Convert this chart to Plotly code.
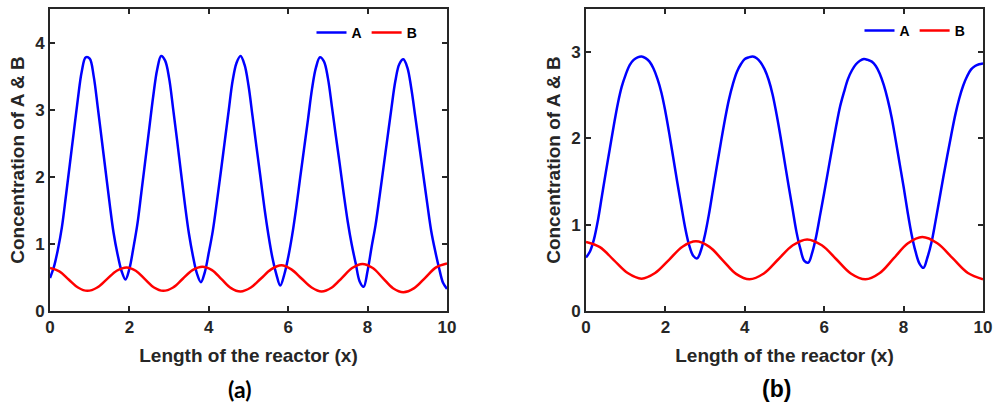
import plotly.graph_objects as go

# ---------------- data ----------------
x_grid = [round(i * 0.1, 1) for i in range(101)]   # sample positions along the reactor

# Panel (a), species A (read every 0.1)
ya_A = [0.49, 0.66, 0.92, 1.25, 1.71, 2.19, 2.67, 3.15, 3.57, 3.78,
        3.76, 3.50, 3.05, 2.57, 2.09, 1.61, 1.17, 0.85, 0.60, 0.47,
        0.63, 0.94, 1.29, 1.76, 2.24, 2.72, 3.20, 3.60, 3.80, 3.73,
        3.47, 3.02, 2.55, 2.06, 1.58, 1.15, 0.82, 0.56, 0.43, 0.58,
        0.87, 1.19, 1.61, 2.06, 2.52, 2.98, 3.43, 3.70, 3.80, 3.67,
        3.36, 2.91, 2.45, 2.00, 1.54, 1.14, 0.80, 0.55, 0.38, 0.54,
        0.80, 1.13, 1.53, 1.98, 2.42, 2.86, 3.31, 3.63, 3.78, 3.72,
        3.47, 3.05, 2.61, 2.18, 1.74, 1.33, 0.99, 0.71, 0.44, 0.36,
        0.60, 0.95, 1.28, 1.70, 2.14, 2.58, 3.02, 3.43, 3.68, 3.75,
        3.63, 3.32, 2.90, 2.47, 2.04, 1.61, 1.20, 0.90, 0.64, 0.42,
        0.33]

# Panel (a), species B (extrema and points between them)
xa_B = [0.00, 0.235, 0.47, 0.705, 0.94, 1.19, 1.435, 1.68, 1.93, 2.16, 2.39, 2.62, 2.85, 3.10, 3.345, 3.59, 3.84,
        4.08, 4.32, 4.56, 4.80, 5.06, 5.315, 5.57, 5.83, 6.08, 6.335, 6.59, 6.84, 7.10, 7.355, 7.61, 7.87,
        8.13, 8.385, 8.64, 8.90, 9.175, 9.45, 9.725, 10.0]
ya_B = [0.64, 0.59, 0.47, 0.35, 0.30, 0.35, 0.475, 0.60, 0.65, 0.60, 0.475, 0.35, 0.30, 0.35, 0.48, 0.61, 0.66,
        0.61, 0.475, 0.34, 0.29, 0.35, 0.485, 0.62, 0.68, 0.62, 0.485, 0.35, 0.29, 0.35, 0.495, 0.64, 0.70,
        0.64, 0.49, 0.34, 0.28, 0.34, 0.495, 0.65, 0.71]

# Panel (b), species A (read every 0.1)
yb_A = [0.62, 0.69, 0.83, 1.05, 1.33, 1.61, 1.88, 2.15, 2.40, 2.60,
        2.74, 2.85, 2.91, 2.94, 2.95, 2.93, 2.89, 2.81, 2.69, 2.53,
        2.31, 2.05, 1.77, 1.49, 1.22, 0.96, 0.76, 0.64, 0.61, 0.71,
        0.89, 1.13, 1.41, 1.69, 1.96, 2.22, 2.45, 2.63, 2.77, 2.86,
        2.92, 2.94, 2.95, 2.93, 2.88, 2.80, 2.68, 2.51, 2.28, 2.02,
        1.74, 1.46, 1.19, 0.92, 0.72, 0.58, 0.56, 0.68, 0.87, 1.12,
        1.37, 1.63, 1.89, 2.14, 2.37, 2.54, 2.69, 2.79, 2.86, 2.90,
        2.92, 2.91, 2.89, 2.84, 2.75, 2.62, 2.45, 2.24, 1.98, 1.71,
        1.44, 1.15, 0.89, 0.69, 0.55, 0.50, 0.62, 0.79, 1.03, 1.29,
        1.55, 1.80, 2.04, 2.27, 2.46, 2.61, 2.72, 2.80, 2.84, 2.86,
        2.87]

# Panel (b), species B
xb_B = [0.00, 0.35, 0.70, 1.05, 1.40, 1.74, 2.085, 2.43, 2.77, 3.11, 3.445, 3.78, 4.12, 4.48, 4.845, 5.21, 5.57,
        5.94, 6.305, 6.67, 7.04, 7.40, 7.755, 8.11, 8.47, 8.85, 9.235, 9.62, 10.0]
yb_B = [0.80, 0.74, 0.59, 0.44, 0.375, 0.44, 0.59, 0.745, 0.807, 0.743, 0.587, 0.43, 0.367, 0.435, 0.60, 0.762, 0.83,
        0.762, 0.60, 0.435, 0.367, 0.44, 0.612, 0.785, 0.857, 0.785, 0.612, 0.44, 0.367]

x_ticks = [0, 2, 4, 6, 8, 10]
ya_ticks = [0, 1, 2, 3, 4]
yb_ticks = [0, 1, 2, 3]

# ---------------- figure ----------------
AX = "#262626"
LW = 2.5
FONT = "Liberation Sans, Arial, sans-serif"

def line(color):
    return dict(color=color, width=LW, shape="spline", smoothing=1.0)

fig = go.Figure()
fig.add_trace(go.Scatter(x=x_grid, y=ya_A, mode="lines", name="A", line=line("#0000FF"),
                         xaxis="x", yaxis="y", legend="legend"))
fig.add_trace(go.Scatter(x=xa_B, y=ya_B, mode="lines", name="B", line=line("#FF0000"),
                         xaxis="x", yaxis="y", legend="legend"))
fig.add_trace(go.Scatter(x=x_grid, y=yb_A, mode="lines", name="A", line=line("#0000FF"),
                         xaxis="x2", yaxis="y2", legend="legend2"))
fig.add_trace(go.Scatter(x=xb_B, y=yb_B, mode="lines", name="B", line=line("#FF0000"),
                         xaxis="x2", yaxis="y2", legend="legend2"))

tickfont = dict(family=FONT, size=17, color=AX)
titlefont = dict(family=FONT, size=19, color=AX)

def xax(domain, anchor):
    return dict(domain=domain, anchor=anchor, range=[0, 10], tickvals=x_ticks, ticktext=[f"<b>{v}</b>" for v in x_ticks],
                ticks="inside", ticklen=5, tickwidth=1.5, tickcolor=AX, showline=True, linecolor=AX, linewidth=2,
                mirror="ticks", showgrid=False, zeroline=False, tickfont=tickfont, automargin=False,
                title=dict(text="<b>Length of the reactor (x)</b>", font=titlefont, standoff=12))

def yax(domain, anchor, rng, tv):
    return dict(domain=domain, anchor=anchor, range=rng, tickvals=tv, ticktext=[f"<b>{v}</b>" for v in tv],
                ticks="inside", ticklen=5, tickwidth=1.5, tickcolor=AX, showline=True, linecolor=AX, linewidth=2,
                mirror="ticks", showgrid=False, zeroline=False, tickfont=tickfont, automargin=False,
                title=dict(text="<b>Concentration of A & B</b>", font=titlefont, standoff=5))

legfont = dict(family=FONT, size=14, color="black", weight="bold")
ydom = [95 / 406, 397 / 406]
fig.update_layout(
    width=1000, height=406, margin=dict(l=0, r=0, t=0, b=0),
    paper_bgcolor="white", plot_bgcolor="white",
    xaxis=xax([0.050, 0.447], "y"),
    yaxis=yax(ydom, "x", [0, 4.5], ya_ticks),
    xaxis2=xax([0.586, 0.983], "y2"),
    yaxis2=yax(ydom, "x2", [0, 3.5], yb_ticks),
    legend=dict(orientation="h", x=0.3115, y=(406 - 17) / 406, xanchor="left", yanchor="top",
                bgcolor="rgba(0,0,0,0)", font=legfont),
    legend2=dict(orientation="h", x=0.8595, y=(406 - 15) / 406, xanchor="left", yanchor="top",
                 bgcolor="rgba(0,0,0,0)", font=legfont),
    showlegend=True,
    annotations=[
        dict(text="<b>(a)</b>", x=239 / 1000, y=(406 - 389) / 406, xref="paper", yref="paper", showarrow=False,
             xanchor="center", yanchor="middle", font=dict(family="Lato, sans-serif", size=23, color="black")),
        dict(text="<b>(b)</b>", x=776 / 1000, y=(406 - 389) / 406, xref="paper", yref="paper", showarrow=False,
             xanchor="center", yanchor="middle", font=dict(family=FONT, size=23, color="black")),
    ],
)

fig.write_html("out.html")
